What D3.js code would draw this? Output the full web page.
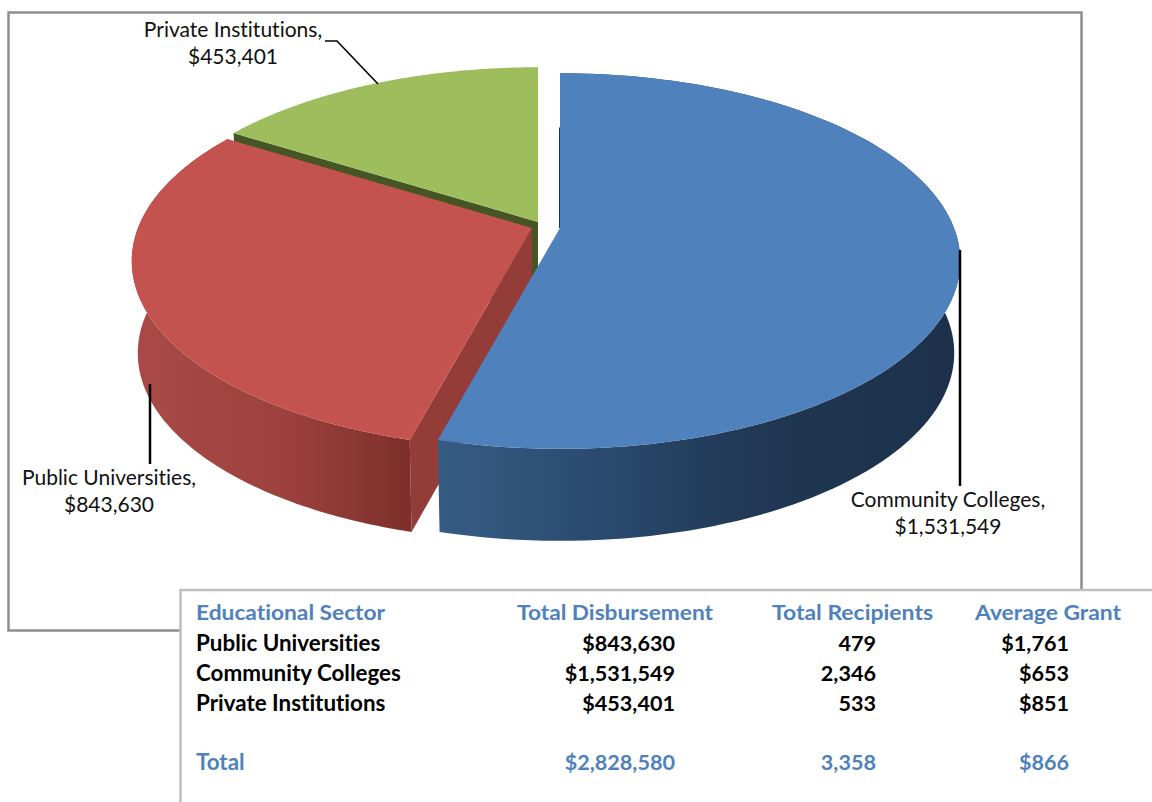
<!DOCTYPE html>
<html><head><meta charset="utf-8">
<script src="https://cdn.jsdelivr.net/npm/d3@7"></script>
<style>html,body{margin:0;padding:0;background:#fff}svg{display:block}text{font-family:Lato,sans-serif;font-variant-ligatures:none}</style>
</head><body><svg id="c" width="1152" height="802"></svg>
<script>
const sectors = ["Public Universities","Community Colleges","Private Institutions"];
const disbursement = [843630,1531549,453401];
const recipients = [479,2346,533];
const averageGrant = [1761,653,851];
const totals = ["$2,828,580","3,358","$866"];
const headers = ["Educational Sector","Total Disbursement","Total Recipients","Average Grant"];
const pieOrder = [1,0,2];

const svg = d3.select("#c");
const money = d3.format("$,"), count = d3.format(",");
const pie = d3.pie().sort(null).value(i=>disbursement[i]).startAngle(0).endAngle(2*Math.PI);
const arcs = pie(pieOrder);

// perspective view of the pie
const R=394, RK=182, Q=0.176, H=92, BOTTOM_X=0.985;
const view = [
 {top:"#4f81bd", side:"url(#gBlue)", cut:"#2c4d73", c:[560,228]},
 {top:"#c4524e", side:"url(#gRed)",  cut:"#943c38", c:[532,228]},
 {top:"#9ebd5c", side:"#4a5a24",     cut:"#465524", c:[538,222]}
];
function proj(v,t,level,frac=1){
  const s=frac/(1+Q*Math.cos(t)), k=level?BOTTOM_X:1;
  return [v.c[0]+k*R*Math.sin(t)*s, v.c[1]+(level?H:0)-RK*Math.cos(t)*s];
}
const line=d3.line();
const arcPts=(v,a,b,level)=>d3.range(0,121).map(i=>proj(v,a+(b-a)*i/120,level));

const defs=svg.append("defs");
function grad(id,x1,x2,stops){
  const g=defs.append("linearGradient").attr("id",id).attr("gradientUnits","userSpaceOnUse")
    .attr("x1",x1).attr("x2",x2).attr("y1",0).attr("y2",0);
  stops.forEach(s=>g.append("stop").attr("offset",s[0]).attr("stop-color",s[1]));
}
grad("gBlue",445,960,[[0,"#365b83"],[0.3,"#2a4a6f"],[0.6,"#203853"],[1,"#1c304b"]]);
grad("gRed",135,410,[[0,"#a94a47"],[0.55,"#9c413d"],[1,"#7e2f2b"]]);

// chart frame
svg.append("rect").attr("x",8.5).attr("y",12.5).attr("width",1073).attr("height",618)
  .attr("fill","#fff").attr("stroke","#8e8e8e").attr("stroke-width",2.5);

const [blue,red,green]=arcs.map((d,i)=>({a:d.startAngle,b:d.endAngle,v:view[i]}));
function cutFace(s,t){
  return line([proj(s.v,t,0,0),proj(s.v,t,0),proj(s.v,t,1),proj(s.v,t,1,0)])+"Z";
}
function topFace(s){return line([proj(s.v,0,0,0),...arcPts(s.v,s.a,s.b,0)])+"Z";}
function sideFace(s){return line([...arcPts(s.v,s.a,s.b,0),...arcPts(s.v,s.b,s.a,1)])+"Z";}

const pieG=svg.append("g");
// green slice
pieG.append("path").attr("d",cutFace(green,green.a)).attr("fill",green.v.cut);
pieG.append("path").attr("d",topFace(green)).attr("fill",green.v.top);
// red slice
pieG.append("path").attr("d",cutFace(red,red.a)).attr("fill",red.v.cut);
pieG.append("path").attr("d",sideFace(red)).attr("fill",red.v.side);
pieG.append("path").attr("d",topFace(red)).attr("fill",red.v.top);
// blue slice
pieG.append("path").attr("d",line([proj(blue.v,0,0,0),proj(blue.v,0,0,0.65)]))
  .attr("stroke","#1c304b").attr("stroke-width",2).attr("fill","none");
pieG.append("path").attr("d",sideFace(blue)).attr("fill",blue.v.side);
pieG.append("path").attr("d",topFace(blue)).attr("fill",blue.v.top);

// leaders
const leaders=[[[960,250],[960,486]],[[150,384],[150,464]],[[325,41],[337,41],[378,84]]];
const leaderW=[2.5,2.5,1.6];
leaders.forEach((p,i)=>svg.append("path").attr("d",line(p)).attr("fill","none").attr("stroke","#000").attr("stroke-width",leaderW[i]));

// labels
const labelPos=[[948,507],[109,485],[233,37]];
pieOrder.forEach((idx,i)=>{
  const t=svg.append("text").attr("text-anchor","middle").attr("font-size",21).attr("fill","#111");
  t.append("tspan").attr("x",labelPos[i][0]).attr("y",labelPos[i][1]).text(sectors[idx]+",");
  t.append("tspan").attr("x",labelPos[i][0]).attr("y",labelPos[i][1]+27).text(money(disbursement[idx]));
});

// table panel
svg.append("rect").attr("x",180.5).attr("y",590).attr("width",1000).attr("height",300)
  .attr("fill","#fff").attr("stroke","#bfbfbf").attr("stroke-width",2.5);
const headX=[196,517,772,975], colX=[675,876,1069], rowY=[651,681,711], headLen=[189,196,161,146];
const tbl=svg.append("g").attr("font-weight",700);
headers.forEach((h,i)=>tbl.append("text").attr("x",headX[i]).attr("y",620).attr("fill","#4f81bd").attr("font-size",21)
  .attr("textLength",headLen[i]).attr("lengthAdjust","spacingAndGlyphs").text(h));
sectors.forEach((s,i)=>{
  tbl.append("text").attr("x",196).attr("y",rowY[i]).attr("font-size",22.4).text(s);
  [money(disbursement[i]),count(recipients[i]),money(averageGrant[i])].forEach((v,j)=>
    tbl.append("text").attr("x",colX[j]).attr("y",rowY[i]).attr("font-size",21.6).attr("text-anchor","end").text(v));
});
tbl.append("text").attr("x",196).attr("y",770).attr("font-size",22.4).attr("fill","#4f81bd").text("Total");
totals.forEach((v,j)=>tbl.append("text").attr("x",colX[j]).attr("y",770).attr("font-size",21.6).attr("text-anchor","end").attr("fill","#4f81bd").text(v));
</script></body></html>
